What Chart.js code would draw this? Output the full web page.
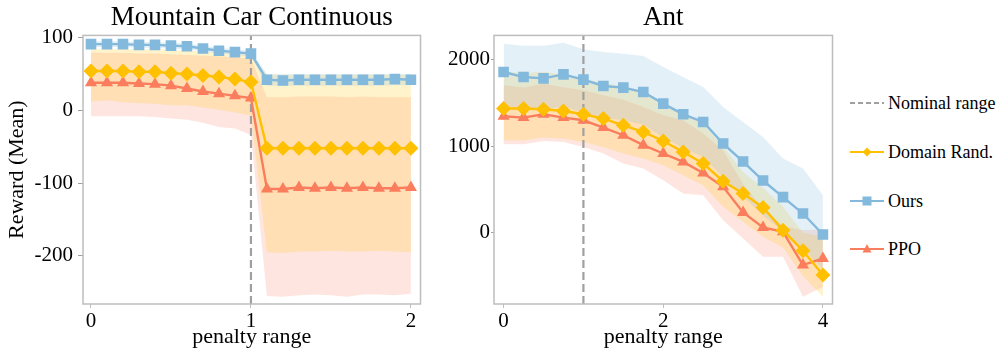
<!DOCTYPE html>
<html>
<head>
<meta charset="utf-8">
<script src="https://cdn.jsdelivr.net/npm/chart.js@4.4.1/dist/chart.umd.min.js"></script>
<style>
  body { margin: 0; background: #fff; width: 997px; height: 350px; position: relative; overflow: hidden; font-family: "Liberation Serif", "Times New Roman", serif; }
  #mc { position: absolute; left: 0; top: 0; }
  #ant { position: absolute; left: 424px; top: 0; }
  .item { position: absolute; left: 850px; height: 20px; display: flex; align-items: center; font-size: 18px; white-space: nowrap; color: #000; }
  .item svg { margin-right: 4px; }
</style>
</head>
<body>
<canvas id="mc" width="428" height="350"></canvas>
<canvas id="ant" width="416" height="350"></canvas>

<div class="item" style="top:93px"><svg width="34" height="14"><line x1="0" y1="7" x2="34" y2="7" stroke="#a0a0a0" stroke-width="2" stroke-dasharray="5,3"/></svg>Nominal range</div>
<div class="item" style="top:142px"><svg width="34" height="14"><line x1="0" y1="7" x2="34" y2="7" stroke="#ffc000" stroke-width="2"/><polygon points="17,2.5 21.5,7 17,11.5 12.5,7" fill="#ffc000"/></svg>Domain Rand.</div>
<div class="item" style="top:191px"><svg width="34" height="14"><line x1="0" y1="7" x2="34" y2="7" stroke="#82b9dc" stroke-width="2"/><rect x="12.5" y="2.5" width="9" height="9" fill="#82b9dc"/></svg>Ours</div>
<div class="item" style="top:239px"><svg width="34" height="14"><line x1="0" y1="7" x2="34" y2="7" stroke="#fa7d5e" stroke-width="2"/><polygon points="17,2 21.5,10.5 12.5,10.5" fill="#fa7d5e"/></svg>PPO</div>

<script>
// Mountain Car Continuous
const mcX = [0, 0.1, 0.2, 0.3, 0.4, 0.5, 0.6, 0.7, 0.8, 0.9, 1.0, 1.1, 1.2, 1.3, 1.4, 1.5, 1.6, 1.7, 1.8, 1.9, 2.0];
const mcOurs   = [91, 91, 91, 90, 90, 89, 88, 85, 82, 80, 78, 42, 41, 42, 42, 42, 42, 42, 42, 43, 42];
const mcOursHi = [95, 95, 95, 94, 94, 93, 92, 89, 86, 84, 82, 50, 50, 50, 50, 50, 50, 50, 50, 50, 50];
const mcOursLo = [87, 87, 87, 86, 86, 85, 84, 81, 78, 76, 74, 34, 34, 34, 34, 34, 34, 34, 34, 35, 35];
const mcDR   = [54, 54, 54, 53, 53, 51, 50, 48, 46, 43, 39, -52, -52, -52, -52, -52, -52, -52, -52, -52, -52];
const mcDRHi = [84, 84, 84, 84, 84, 83, 82, 81, 80, 78, 76, 49, 49, 49, 49, 49, 49, 49, 49, 49, 49];
const mcDRLo = [12, 14, 11, 10, 9, 7, 7, 4, 1, -3, -7, -195, -196, -194, -194, -193, -194, -194, -193, -194, -195];
const mcPPO   = [38, 38, 38, 37, 36, 34, 30, 26, 23, 20, 17, -108, -108, -106, -107, -106, -107, -106, -107, -107, -106];
const mcPPOHi = [79, 79, 79, 78, 78, 77, 76, 75, 74, 73, 71, 18, 18, 19, 19, 19, 18, 19, 18, 18, 18];
const mcPPOLo = [-8, -8, -8, -8, -9, -11, -13, -17, -23, -25, -34, -255, -256, -254, -253, -254, -256, -253, -253, -254, -252];
const mcXTicks = [0, 1, 2];
const mcYTicks = [-200, -100, 0, 100];

// Ant
const antX = [0, 0.25, 0.5, 0.75, 1.0, 1.25, 1.5, 1.75, 2.0, 2.25, 2.5, 2.75, 3.0, 3.25, 3.5, 3.75, 4.0];
const antOurs   = [1857, 1799, 1784, 1830, 1769, 1696, 1677, 1626, 1492, 1369, 1280, 1031, 823, 604, 412, 223, -19];
const antOursHi = [2185, 2160, 2160, 2196, 2119, 2088, 2069, 2042, 1915, 1799, 1684, 1453, 1280, 1107, 858, 742, 435];
const antOursLo = [1470, 1420, 1420, 1460, 1390, 1330, 1300, 1250, 1100, 980, 880, 640, 420, 200, 20, -180, -420];
const antDR   = [1435, 1435, 1427, 1407, 1369, 1319, 1242, 1165, 1061, 934, 800, 596, 454, 293, 31, -208, -488];
const antDRHi = [1860, 1845, 1860, 1826, 1780, 1730, 1692, 1642, 1460, 1380, 1250, 1000, 700, 520, 300, 0, -50];
const antDRLo = [1069, 1069, 1100, 1090, 1050, 992, 916, 858, 781, 665, 550, 300, 127, -46, -170, -500, -738];
const antPPO   = [1346, 1331, 1369, 1331, 1300, 1216, 1127, 1012, 916, 819, 692, 531, 235, 62, 12, -373, -296];
const antPPOHi = [1704, 1677, 1722, 1680, 1646, 1588, 1538, 1453, 1357, 1300, 1146, 950, 560, 280, 80, 30, 40];
const antPPOLo = [1023, 1023, 1061, 1050, 992, 916, 800, 743, 608, 454, 435, 146, -65, -277, -277, -738, -623];
const antXTicks = [0, 2, 4];
const antYTicks = [0, 1000, 2000];

const nominalRange = 1;

const BLUE = '#82b9dc', GOLD = '#ffc000', RED = '#fa7d5e';
const BLUE_BAND = 'rgba(130,185,220,0.22)', GOLD_BAND = 'rgba(255,195,0,0.2)', RED_BAND = 'rgba(250,125,94,0.2)';

Chart.defaults.font.family = "'Liberation Serif', 'Times New Roman', serif";
Chart.defaults.color = '#000';

function pts(x, y) { return x.map((v, i) => ({ x: v, y: y[i] })); }

function band(x, hi, lo, color) {
  return [
    { data: pts(x, hi), fill: '+1', backgroundColor: color, borderWidth: 0, pointRadius: 0, order: 10 },
    { data: pts(x, lo), fill: false, borderWidth: 0, pointRadius: 0, order: 10 }
  ];
}

function line(x, y, color, style, radius, order) {
  return {
    data: pts(x, y), borderColor: color, backgroundColor: color, borderWidth: 2.4,
    pointStyle: style, pointRadius: radius, pointBorderWidth: 0, pointHoverRadius: radius,
    fill: false, tension: 0, order: order
  };
}

const framePlugin = {
  id: 'frame',
  afterDraw(chart) {
    const a = chart.chartArea, ctx = chart.ctx;
    ctx.save();
    ctx.strokeStyle = '#bdbdbd';
    ctx.lineWidth = 1.5;
    ctx.strokeRect(a.left, a.top, a.right - a.left, a.bottom - a.top);
    ctx.restore();
  }
};

function makeChart(id, o) {
  const datasets = [
    ...band(o.x, o.oursHi, o.oursLo, BLUE_BAND),
    ...band(o.x, o.drHi, o.drLo, GOLD_BAND),
    ...band(o.x, o.ppoHi, o.ppoLo, RED_BAND),
    {
      data: [{ x: nominalRange, y: o.yMin }, { x: nominalRange, y: o.yMax }],
      borderColor: '#a0a0a0', borderWidth: 2.2, borderDash: [8, 4], pointRadius: 0, fill: false, order: 5
    },
    line(o.x, o.ppo, RED, 'triangle', 7, 3),
    line(o.x, o.dr, GOLD, 'rectRot', 7.5, 2),
    line(o.x, o.ours, BLUE, 'rect', 7.5, 1)
  ];
  return new Chart(document.getElementById(id), {
    type: 'line',
    data: { datasets },
    plugins: [framePlugin],
    options: {
      responsive: false,
      animation: false,
      events: [],
      layout: { padding: { left: 0, right: o.padRight, top: 0, bottom: 0 } },
      plugins: {
        legend: { display: false },
        tooltip: { enabled: false },
        title: {
          display: true, text: o.title, fullSize: false,
          font: { size: 27, weight: 'normal' }, color: '#000',
          padding: { top: 2, bottom: 1 }
        }
      },
      scales: {
        x: {
          type: 'linear', min: o.xMin, max: o.xMax,
          afterBuildTicks: s => { s.ticks = o.xTicks.map(v => ({ value: v })); },
          afterFit: s => { s.height = 46; },
          ticks: { font: { size: 21 }, color: '#000', padding: 1, maxRotation: 0, callback: v => String(v) },
          grid: { drawOnChartArea: false, tickLength: 4, color: '#bdbdbd' },
          border: { display: false },
          title: { display: true, text: 'penalty range', font: { size: 22 }, color: '#000', padding: 0 }
        },
        y: {
          type: 'linear', min: o.yMin, max: o.yMax,
          afterBuildTicks: s => { s.ticks = o.yTicks.map(v => ({ value: v })); },
          afterFit: s => { s.width = o.yWidth; },
          ticks: { font: { size: 21 }, color: '#000', padding: o.yPad, callback: v => String(v) },
          grid: { drawOnChartArea: false, tickLength: o.yTick, color: '#9e9e9e' },
          border: { display: false },
          title: { display: !!o.yTitle, text: o.yTitle || '', font: { size: 22 }, color: '#000', padding: { top: 4, bottom: 0 } }
        }
      }
    }
  });
}

makeChart('mc', {
  title: 'Mountain Car Continuous', x: mcX,
  ours: mcOurs, oursHi: mcOursHi, oursLo: mcOursLo,
  dr: mcDR, drHi: mcDRHi, drLo: mcDRLo,
  ppo: mcPPO, ppoHi: mcPPOHi, ppoLo: mcPPOLo,
  xMin: -0.05, xMax: 2.06, yMin: -266, yMax: 103,
  xTicks: mcXTicks, yTicks: mcYTicks,
  yWidth: 83, yPad: 5, yTick: 5, padRight: 7, yTitle: 'Reward (Mean)'
});

makeChart('ant', {
  title: 'Ant', x: antX,
  ours: antOurs, oursHi: antOursHi, oursLo: antOursLo,
  dr: antDR, drHi: antDRHi, drLo: antDRLo,
  ppo: antPPO, ppoHi: antPPOHi, ppoLo: antPPOLo,
  xMin: -0.12, xMax: 4.12, yMin: -822, yMax: 2280,
  xTicks: antXTicks, yTicks: antYTicks,
  yWidth: 70, yPad: 1, yTick: 3, padRight: 7, yTitle: ''
});
</script>
</body>
</html>
